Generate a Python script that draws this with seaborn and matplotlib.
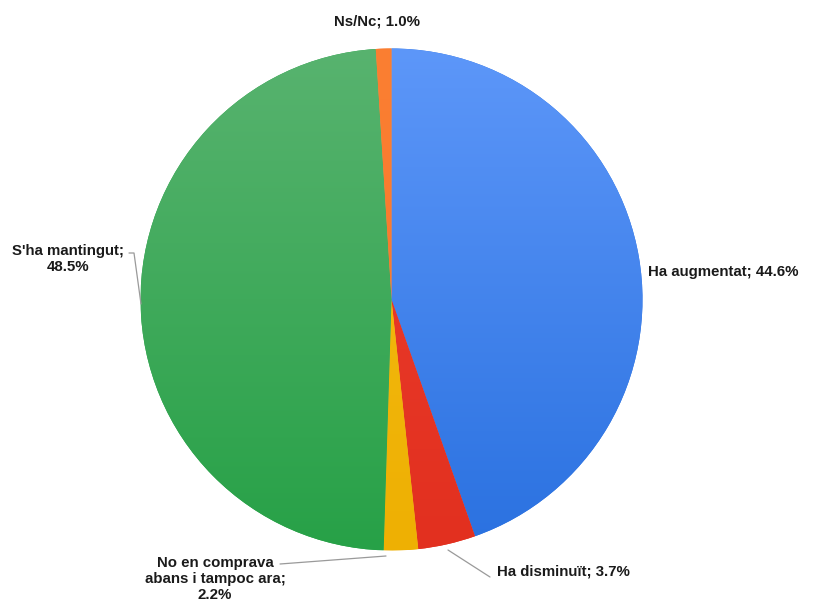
import numpy as np
import matplotlib
matplotlib.use("Agg")
import matplotlib.pyplot as plt
from matplotlib.colors import LinearSegmentedColormap
import seaborn as sns

# Survey answers, clockwise from 12 o'clock
categories = ["Ha augmentat", "Ha disminuït", "No en comprava\nabans i tampoc ara",
              "S'ha mantingut", "Ns/Nc"]
values = [44.6, 3.7, 2.2, 48.5, 1.0]

# Top / bottom shades of each slice (vertical gradient)
top_colors = ["#5d97f9", "#ec3f30", "#f5bd14", "#58b36f", "#fb7f32"]
bottom_colors = ["#2a71e0", "#e2301f", "#eeb003", "#27a147", "#f8752a"]

sns.set_theme(style="white")
plt.rcParams["font.family"] = ["Liberation Sans", "DejaVu Sans"]

W, H = 814, 603
fig = plt.figure(figsize=(W / 100, H / 100), dpi=100)
ax = fig.add_axes([0, 0, 1, 1])

cx, cy, r = 391.5, H - 299.5, 251
wedges, _ = ax.pie(values, startangle=90, counterclock=False,
                   colors=bottom_colors, center=(cx, cy), radius=r,
                   wedgeprops=dict(linewidth=0))

# Shade every wedge with a vertical gradient clipped to its outline
grad = np.linspace(0, 1, 256).reshape(-1, 1)
for w, c_top, c_bot in zip(wedges, top_colors, bottom_colors):
    cmap = LinearSegmentedColormap.from_list("g", [c_top, c_bot])
    im = ax.imshow(grad, cmap=cmap, aspect="auto", interpolation="bilinear",
                   extent=(cx - r, cx + r, cy - r, cy + r), origin="upper", zorder=2)
    im.set_clip_path(w)

ax.set_xlim(0, W)
ax.set_ylim(0, H)
ax.set_aspect("auto")
ax.axis("off")

def label_text(i):
    return f"{categories[i]}; {values[i]:.1f}%"

fs = 10.8
tkw = dict(fontsize=fs, fontweight="bold", color="#1a1a1a", linespacing=1.22)
lead = dict(color="#9a9a9a", lw=0.9)

# Ha augmentat
ax.text(648, H - 272, label_text(0), ha="left", va="center", **tkw)

# Ha disminuït
ax.plot([448, 490], [H - 550, H - 577], **lead)
ax.text(497, H - 572, label_text(1), ha="left", va="center", **tkw)

# No en comprava abans i tampoc ara
ax.plot([280, 386], [H - 564, H - 556], **lead)
ax.text(215, H - 579, f"{categories[2]};\n{values[2]:.1f}%", ha="center",
        va="center", **tkw)

# S'ha mantingut
ax.plot([129, 134, 141], [H - 253, H - 253, H - 304], **lead)
ax.text(68, H - 259, f"{categories[3]};\n{values[3]:.1f}%", ha="center",
        va="center", **tkw)

# Ns/Nc
ax.text(377, H - 22, label_text(4), ha="center", va="center", **tkw)

fig.savefig("out.png", dpi=100, facecolor="white")
